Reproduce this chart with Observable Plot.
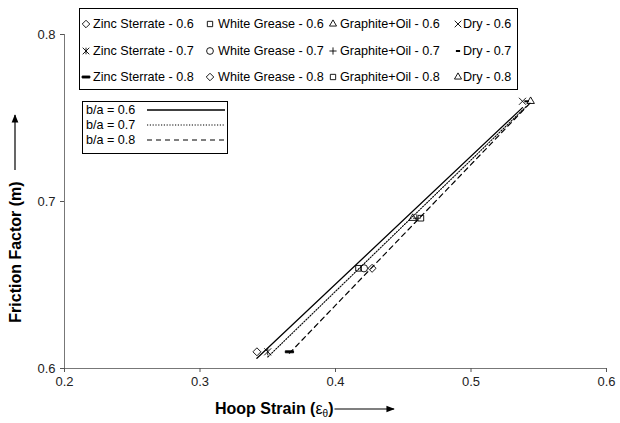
<!DOCTYPE html>
<html><head><meta charset="utf-8">
<script src="https://cdn.jsdelivr.net/npm/d3@7"></script>
<script src="https://cdn.jsdelivr.net/npm/@observablehq/plot@0.6"></script>
<style>
body{margin:0;background:#fff;font-family:"Liberation Sans",Arial,sans-serif;}
#wrap{position:relative;width:620px;height:423px;overflow:hidden;}
#wrap > svg{position:absolute;left:0;top:0;}
.leg{position:absolute;border:1px solid #000;background:#fff;font-size:12.6px;color:#000;box-sizing:border-box;}
.item{position:absolute;white-space:nowrap;line-height:14px;}
.mk{position:absolute;}
</style></head><body><div id="wrap"></div>
<script>
// ---- data ----
const lubricants = ["Zinc Sterrate", "White Grease", "Graphite+Oil", "Dry"];
const frictionFactor = [0.61, 0.66, 0.69, 0.76];
const ratioLabels = ["0.6", "0.7", "0.8"];
const hoopStrain06 = [0.342, 0.417, 0.457, 0.538];
const hoopStrain07 = [0.350, 0.421, 0.460, 0.541];
const hoopStrain08 = [0.366, 0.427, 0.463, 0.544];
const markerNames = [
  ["diamond", "square", "triangle", "times"],
  ["star", "circle", "plus", "dash"],
  ["bar", "diamond", "square", "triangle"]
];
const xTicks = [0.2, 0.3, 0.4, 0.5, 0.6];
const yTicks = [0.6, 0.7, 0.8];
const lineLabels = ["b/a = 0.6", "b/a = 0.7", "b/a = 0.8"];

// ---- symbols ----
const dashSym = {draw(ctx, size){const w = Math.sqrt(size) * 0.35; ctx.moveTo(-w, 0); ctx.lineTo(w, 0);}};
const barSym = {draw(ctx, size){const w = Math.sqrt(size) * 0.65; ctx.moveTo(-w, -1); ctx.lineTo(w, -1); ctx.lineTo(w, 1); ctx.lineTo(-w, 1); ctx.closePath();}};
const starSym = {draw(ctx, size){const r = Math.sqrt(size) * 0.55; ctx.moveTo(-r, -r); ctx.lineTo(r, r); ctx.moveTo(-r, r); ctx.lineTo(r, -r); ctx.moveTo(0, -r); ctx.lineTo(0, r);}};
const timesSym = {draw(ctx, size){const r = Math.sqrt(size) * 0.55; ctx.moveTo(-r, -r); ctx.lineTo(r, r); ctx.moveTo(-r, r); ctx.lineTo(r, -r);}};
const plusSym = {draw(ctx, size){const r = Math.sqrt(size) * 0.6; ctx.moveTo(-r, 0); ctx.lineTo(r, 0); ctx.moveTo(0, -r); ctx.lineTo(0, r);}};
const symbolMap = {
  diamond: d3.symbolDiamond2, square: d3.symbolSquare2, triangle: d3.symbolTriangle2,
  times: timesSym, star: starSym, circle: d3.symbolCircle,
  plus: plusSym, dash: dashSym, bar: barSym
};
const strains = [hoopStrain06, hoopStrain07, hoopStrain08];
const rows = [];
ratioLabels.forEach((r, i) => lubricants.forEach((lub, j) => rows.push({
  ratio: r, lubricant: lub, strain: strains[i][j], m: frictionFactor[j], marker: markerNames[i][j]
})));

const dashes = ["none", "1.2,1.6", "5,4"];
const widths = [1.3, 1.1, 1.2];

const lineMarks = ratioLabels.map((r, i) => Plot.linearRegressionY(rows.filter(d => d.ratio === r), {
  x: "strain", y: "m", ci: 0, stroke: "#000", strokeWidth: widths[i], strokeDasharray: dashes[i]
}));
const dotMarks = rows.map(d => Plot.dot([d], {
  x: "strain", y: "m", r: 3.6, symbol: symbolMap[d.marker],
  fill: d.marker === "bar" ? "#000" : "none", stroke: "#000", strokeWidth: d.marker === "dash" ? 2 : 0.9
}));

const chart = Plot.plot({
  width: 620, height: 423,
  marginLeft: 64, marginRight: 14, marginTop: 34, marginBottom: 55,
  style: {fontFamily: "Liberation Sans, Arial, sans-serif", fontSize: "13px", color: "#222", background: "white"},
  x: {domain: [0.2, 0.6]},
  y: {domain: [0.6, 0.8]},
  marks: [
    Plot.ruleX([0.2], {stroke: "#777"}),
    Plot.ruleY([0.6], {stroke: "#777"}),
    Plot.axisX({ticks: xTicks, tickFormat: d3.format(".1f"), tickSize: 4, tickPadding: 4, label: null, fontSize: 13, stroke: "#555"}),
    Plot.axisY({ticks: yTicks, tickFormat: d3.format(".1f"), tickSize: 4, tickPadding: 5, label: null, fontSize: 13, stroke: "#555"}),
    ...lineMarks,
    ...dotMarks
  ]
});
const wrap = document.getElementById("wrap");
wrap.appendChild(chart);

// ---- axis titles with arrows ----
const ns = "http://www.w3.org/2000/svg";
const ov = d3.select(wrap).append("svg").attr("width", 620).attr("height", 423)
  .style("position", "absolute").style("left", 0).style("top", 0).style("pointer-events", "none");
const defs = ov.append("defs");
defs.append("marker").attr("id", "ah").attr("viewBox", "0 0 10 10").attr("refX", 9).attr("refY", 5)
  .attr("markerWidth", 7).attr("markerHeight", 7).attr("orient", "auto")
  .append("path").attr("d", "M0,1L10,5L0,9Z").attr("fill", "#000");
ov.append("text").attr("transform", "translate(21,252) rotate(-90)").attr("text-anchor", "middle")
  .attr("font-family", "Liberation Sans, Arial, sans-serif").attr("font-weight", "bold").attr("font-size", 16)
  .text("Friction Factor (m)");
ov.append("line").attr("x1", 15).attr("x2", 15).attr("y1", 170).attr("y2", 115)
  .attr("stroke", "#000").attr("stroke-width", 1.2).attr("marker-end", "url(#ah)");
const xt = ov.append("text").attr("x", 215).attr("y", 414)
  .attr("font-family", "Liberation Sans, Arial, sans-serif").attr("font-weight", "bold").attr("font-size", 16);
xt.append("tspan").text("Hoop Strain (");
xt.append("tspan").attr("font-weight", "normal").text("ε");
xt.append("tspan").attr("font-weight", "normal").attr("font-size", 10).attr("dy", 3).text("θ");
xt.append("tspan").attr("dy", -3).text(")");
const xEnd = 215 + xt.node().getComputedTextLength();
ov.append("line").attr("x1", xEnd + 1).attr("x2", 394).attr("y1", 409).attr("y2", 409)
  .attr("stroke", "#000").attr("stroke-width", 1.2).attr("marker-end", "url(#ah)");

// ---- legend 1 (markers) ----
function markerSvg(name, size) {
  const s = document.createElementNS(ns, "svg");
  s.setAttribute("width", 12); s.setAttribute("height", 12);
  const p = document.createElementNS(ns, "path");
  p.setAttribute("d", d3.symbol(symbolMap[name], size)());
  p.setAttribute("transform", "translate(6,6)");
  p.setAttribute("fill", name === "bar" ? "#000" : "none");
  p.setAttribute("stroke", "#000");
  p.setAttribute("stroke-width", name === "dash" ? 2 : 0.9);
  s.appendChild(p);
  return s;
}
const leg1 = document.createElement("div");
leg1.className = "leg";
Object.assign(leg1.style, {left: "79px", top: "8px", width: "439px", height: "82px"});
wrap.appendChild(leg1);
const colMarkX = [6, 130, 253, 378];
const colTextX = [13, 138, 260, 383];
const rowY = [15, 42, 68];
ratioLabels.forEach((r, i) => lubricants.forEach((lub, j) => {
  const m = markerSvg(markerNames[i][j], 36);
  m.classList.add("mk");
  m.style.left = (colMarkX[j] - 6) + "px"; m.style.top = (rowY[i] - 6) + "px";
  leg1.appendChild(m);
  const t = document.createElement("div");
  t.className = "item";
  t.textContent = lub + " - " + r;
  t.style.left = colTextX[j] + "px"; t.style.top = (rowY[i] - 7) + "px";
  leg1.appendChild(t);
}));

// ---- legend 2 (lines) ----
const leg2 = document.createElement("div");
leg2.className = "leg";
Object.assign(leg2.style, {left: "82px", top: "101px", width: "146px", height: "53px"});
wrap.appendChild(leg2);
const row2Y = [8, 23, 38];
lineLabels.forEach((lab, i) => {
  const t = document.createElement("div");
  t.className = "item"; t.textContent = lab;
  t.style.left = "3px"; t.style.top = (row2Y[i] - 7) + "px";
  leg2.appendChild(t);
  const s = document.createElementNS(ns, "svg");
  s.setAttribute("width", 80); s.setAttribute("height", 6);
  s.classList.add("mk");
  s.style.left = "64px"; s.style.top = (row2Y[i] - 3) + "px";
  const l = document.createElementNS(ns, "line");
  l.setAttribute("x1", 0); l.setAttribute("x2", 78); l.setAttribute("y1", 3); l.setAttribute("y2", 3);
  l.setAttribute("stroke", "#000"); l.setAttribute("stroke-width", widths[i]);
  if (dashes[i] !== "none") l.setAttribute("stroke-dasharray", dashes[i]);
  s.appendChild(l);
  leg2.appendChild(s);
});
</script>
</body></html>
